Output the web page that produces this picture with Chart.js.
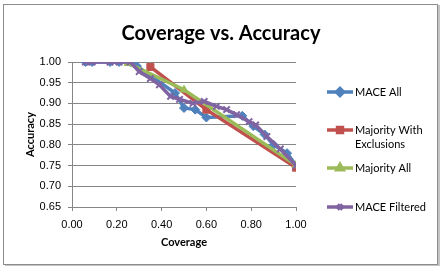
<!DOCTYPE html>
<html>
<head>
<meta charset="utf-8">
<script src="https://cdn.jsdelivr.net/npm/chart.js@4.4.1/dist/chart.umd.min.js"></script>
<style>
    html, body { margin: 0; padding: 0; background: #fff; }
    #wrap { position: relative; width: 443px; height: 266px; }
    #frame { position: absolute; left: 3px; top: 4px; width: 433px; height: 259px; border: 1px solid #8c8c8c; box-shadow: 2px 1px 0 #c4c4c4; }
    #chart { position: absolute; left: 0; top: 0; }
</style>
</head>
<body>
<div id="wrap">
    <div id="frame"></div>
    <canvas id="chart" width="443" height="266"></canvas>
</div>
<script>
// valori
const maceAllX = [0.06, 0.09, 0.17, 0.21, 0.26, 0.29, 0.46, 0.50, 0.55, 0.60, 0.76, 0.81, 0.86, 0.90, 0.96, 1.00];
const maceAllY = [1.00, 1.00, 1.00, 1.00, 1.00, 0.99, 0.925, 0.889, 0.885, 0.866, 0.87, 0.845, 0.825, 0.80, 0.78, 0.75];

const majExclX = [0.35, 0.60, 1.00];
const majExclY = [0.988, 0.885, 0.745];

const majAllX = [0.25, 0.50, 1.00];
const majAllY = [0.997, 0.933, 0.751];

const maceFiltX = [0.06, 0.09, 0.17, 0.21, 0.26, 0.30, 0.35, 0.39, 0.44, 0.48, 0.54, 0.59, 0.645, 0.69, 0.735, 0.79, 0.82, 0.87, 0.93, 1.00];
const maceFiltY = [1.00, 1.00, 1.00, 1.00, 1.00, 0.977, 0.96, 0.945, 0.917, 0.91, 0.90, 0.905, 0.893, 0.885, 0.873, 0.856, 0.848, 0.82, 0.79, 0.75];

const seriesNames = ['MACE All', 'Majority With Exclusions', 'Majority All', 'MACE Filtered'];
const legendLines = [['MACE All'], ['Majority With', 'Exclusions'], ['Majority All'], ['MACE Filtered']];
const xTicks = [0, 0.2, 0.4, 0.6, 0.8, 1.0];
const chartTitle = 'Coverage vs. Accuracy';

const colors = ['#4f81bd', '#c0504d', '#9bbb59', '#8064a2'];
const styles = ['rectRot', 'rect', 'triangle', 'crossRot'];

function toPoints(xs, ys) {
    return xs.map((x, i) => ({ x: x, y: ys[i] }));
}

const allData = [
    toPoints(maceAllX, maceAllY),
    toPoints(majExclX, majExclY),
    toPoints(majAllX, majAllY),
    toPoints(maceFiltX, maceFiltY)
];

const FONT = 'Lato, "Liberation Sans", sans-serif';

// titlul centrat pe toata latimea + legenda desenata manual (text pe doua randuri)
const sideLegend = {
    id: 'sideLegend',
    afterDraw(chart) {
        const ctx = chart.ctx;
        const rows = [92, 130, 168, 207];
        ctx.save();
        ctx.fillStyle = '#000';
        ctx.font = 'bold 20px ' + FONT;
        ctx.textAlign = 'center';
        ctx.textBaseline = 'middle';
        ctx.fillText(chartTitle, 221, 34);
        ctx.textAlign = 'left';

        chart.data.datasets.forEach((ds, i) => {
            const y = rows[i];
            ctx.strokeStyle = ds.borderColor;
            ctx.lineWidth = 3.5;
            ctx.beginPath();
            ctx.moveTo(327, y);
            ctx.lineTo(353, y);
            ctx.stroke();
            ctx.fillStyle = ds.backgroundColor;
            ctx.strokeStyle = ds.borderColor;
            Chart.helpers.drawPoint(ctx, {
                pointStyle: ds.pointStyle, radius: 3.5, borderWidth: 1.5, rotation: 0
            }, 340, y);
            ctx.fillStyle = '#000';
            ctx.font = '11px ' + FONT;
            ctx.textBaseline = 'middle';
            legendLines[i].forEach((t, k) => {
                ctx.fillText(t, 355, y + k * 14);
            });
        });
        ctx.restore();
    }
};

const chart = new Chart(document.getElementById('chart').getContext('2d'), {
    type: 'scatter',
    data: {
        datasets: seriesNames.map((name, i) => ({
            label: name,
            data: allData[i],
            showLine: true,
            borderColor: colors[i],
            backgroundColor: colors[i],
            borderWidth: 3.5,
            pointStyle: styles[i],
            pointRadius: styles[i] === 'rect' ? 5 : 4.5,
            pointBorderWidth: styles[i] === 'crossRot' ? 2 : 1,
            order: 4 - i
        }))
    },
    options: {
        responsive: false,
        animation: false,
        layout: { padding: { left: 4, right: 147, top: 62, bottom: 9 } },
        plugins: {
            legend: { display: false },
            tooltip: { enabled: false },
            title: { display: false }
        },
        scales: {
            x: {
                type: 'linear',
                min: 0,
                max: 1,
                afterBuildTicks: (s) => { s.ticks = xTicks.map(v => ({ value: v })); },
                afterFit: (s) => { s.height = 50; },
                grid: { drawOnChartArea: false, drawTicks: true, tickLength: 4, color: '#868686' },
                border: { color: '#868686' },
                ticks: {
                    color: '#000',
                    padding: 7,
                    font: { family: '"Liberation Sans", sans-serif', size: 11 },
                    callback: (v) => Number(v).toFixed(2)
                },
                title: {
                    display: true,
                    text: 'Coverage',
                    color: '#000',
                    font: { family: FONT, size: 11, weight: 'bold' },
                    padding: { top: 4, bottom: 8 }
                }
            },
            y: {
                min: 0.65,
                max: 1.0,
                afterFit: (s) => { s.width = 68; },
                grid: { color: '#868686', tickLength: 4 },
                border: { color: '#868686' },
                ticks: {
                    stepSize: 0.05,
                    color: '#000',
                    padding: 7,
                    font: { family: '"Liberation Sans", sans-serif', size: 11 },
                    callback: (v) => Number(v).toFixed(2)
                },
                title: {
                    display: true,
                    text: 'Accuracy',
                    color: '#000',
                    font: { family: FONT, size: 11, weight: 'bold' },
                    padding: { top: 20, bottom: 0 }
                }
            }
        }
    },
    plugins: [sideLegend]
});
</script>
</body>
</html>
